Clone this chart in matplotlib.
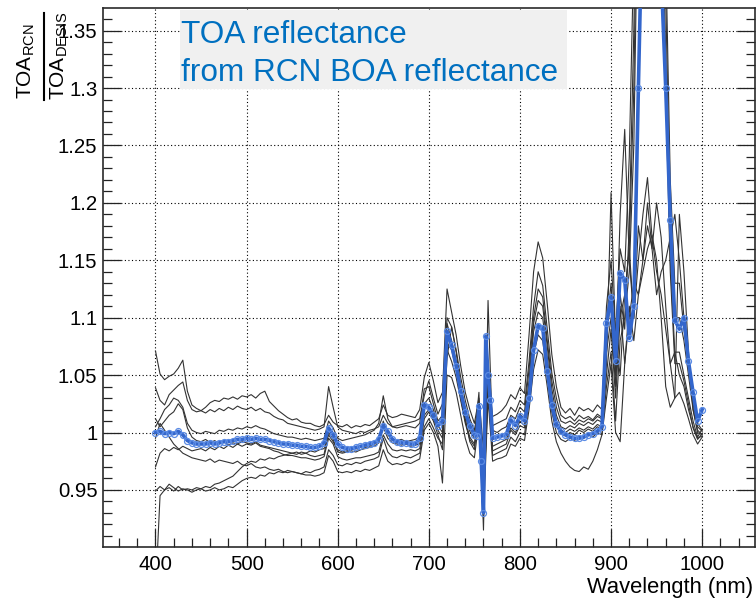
import numpy as np
import matplotlib
matplotlib.use("Agg")
import matplotlib.pyplot as plt
from matplotlib.ticker import MultipleLocator, FuncFormatter
from matplotlib.patches import Rectangle
from matplotlib.lines import Line2D

plt.rcParams['font.family'] = ['Liberation Sans', 'DejaVu Sans']
plt.rcParams['mathtext.fontset'] = 'custom'
plt.rcParams['mathtext.rm'] = 'Liberation Sans'
plt.rcParams['mathtext.it'] = 'Liberation Sans:italic'

# ---------------- data ----------------
# wavelength grid of the individual (grey) curves
wl_grey = np.arange(400, 1001, 5)

g1 = [1.071, 1.051, 1.046, 1.049, 1.051, 1.056, 1.063, 1.036, 1.024, 1.021,
      1.019, 1.022, 1.026, 1.028, 1.027, 1.030, 1.029, 1.031, 1.029, 1.032,
      1.031, 1.033, 1.030, 1.034, 1.036, 1.027, 1.023, 1.019, 1.016, 1.013,
      1.011, 1.012, 1.009, 1.008, 1.008, 1.006, 1.005, 1.007, 1.015, 1.009,
      1.006, 1.005, 1.007, 1.004, 1.006, 1.005, 1.007, 1.006, 1.009, 1.012,
      1.024, 1.015, 1.013, 1.014, 1.016, 1.015, 1.014, 1.013, 1.020, 1.048,
      1.061, 1.045, 1.026, 1.035, 1.125, 1.105, 1.085, 1.058, 1.035, 1.020,
      1.008, 1.030, 0.985, 1.050, 1.014, 1.016, 1.019, 1.024, 1.033, 1.029,
      1.039, 1.034, 1.085, 1.140, 1.166, 1.152, 1.112, 1.068, 1.040, 1.022,
      1.017, 1.021, 1.015, 1.022, 1.019, 1.021, 1.018, 1.024, 1.020, 1.110,
      1.150, 1.085, 1.160, 1.140, 1.240, 1.420, 1.700, 1.900, 2.000, 1.980,
      1.950, 1.700, 1.420, 1.220, 1.130, 1.130, 1.090, 1.060, 1.030, 1.008,
      1.002]
g2 = [1.039, 1.028, 1.024, 1.033, 1.037, 1.041, 1.044, 1.028, 1.020, 1.018,
      1.019, 1.017, 1.020, 1.018, 1.021, 1.019, 1.022, 1.020, 1.023, 1.021,
      1.020, 1.022, 1.019, 1.021, 1.018, 1.017, 1.014, 1.012, 1.011, 1.008,
      1.007, 1.006, 1.005, 1.004, 1.003, 1.002, 1.003, 1.005, 1.040, 1.022,
      1.005, 1.002, 1.001, 1.000, 0.999, 1.001, 1.000, 1.002, 1.003, 1.005,
      1.015, 1.008, 1.005, 1.006, 1.007, 1.008, 1.009, 1.010, 1.012, 1.032,
      1.045, 1.030, 1.016, 1.025, 1.100, 1.092, 1.072, 1.048, 1.028, 1.012,
      1.002, 1.025, 0.960, 1.060, 1.006, 1.008, 1.010, 1.012, 1.022, 1.018,
      1.028, 1.024, 1.062, 1.110, 1.140, 1.128, 1.090, 1.052, 1.030, 1.015,
      1.012, 1.014, 1.010, 1.015, 1.012, 1.014, 1.011, 1.016, 1.013, 1.090,
      1.130, 1.060, 1.190, 1.264, 1.150, 1.100, 1.180, 1.150, 1.200, 1.160,
      1.120, 1.140, 1.150, 1.170, 1.190, 1.150, 1.100, 1.060, 1.025, 1.005,
      1.001]
g3 = [1.005, 1.012, 1.020, 1.024, 1.030, 1.028, 1.022, 1.008, 1.002, 1.000,
      0.999, 1.001, 1.000, 0.999, 1.002, 1.001, 1.003, 1.002, 1.004, 1.003,
      1.005, 1.004, 1.006, 1.004, 1.003, 1.001, 0.999, 0.998, 0.997, 0.996,
      0.996, 0.995, 0.994, 0.995, 0.994, 0.993, 0.994, 0.995, 1.010, 1.004,
      0.995, 0.993, 0.994, 0.995, 0.996, 0.997, 0.998, 1.000, 1.002, 1.008,
      1.032, 1.012, 1.005, 1.004, 1.005, 1.006, 1.005, 1.004, 1.008, 1.038,
      1.040, 1.025, 1.010, 1.015, 1.095, 1.080, 1.062, 1.040, 1.020, 1.006,
      0.998, 1.020, 0.950, 1.040, 1.002, 1.000, 1.003, 1.005, 1.015, 1.012,
      1.022, 1.018, 1.055, 1.100, 1.125, 1.118, 1.080, 1.045, 1.022, 1.010,
      1.008, 1.010, 1.007, 1.011, 1.009, 1.012, 1.010, 1.014, 1.012, 1.070,
      1.100, 1.040, 1.120, 1.090, 1.180, 1.350, 1.600, 1.800, 1.900, 1.880,
      1.850, 1.600, 1.380, 1.180, 1.100, 1.100, 1.080, 1.050, 1.020, 1.000,
      0.998]
g4 = [0.970, 0.982, 0.986, 0.984, 0.987, 0.985, 0.988, 0.986, 0.984, 0.985,
      0.986, 0.984, 0.987, 0.985, 0.988, 0.986, 0.989, 0.987, 0.990, 0.988,
      0.990, 0.989, 0.991, 0.988, 0.987, 0.986, 0.984, 0.983, 0.981, 0.980,
      0.980, 0.979, 0.978, 0.978, 0.977, 0.976, 0.977, 0.979, 0.995, 0.990,
      0.979, 0.977, 0.976, 0.977, 0.978, 0.978, 0.979, 0.980, 0.981, 0.983,
      0.998, 0.990, 0.985, 0.984, 0.985, 0.984, 0.985, 0.984, 0.986, 1.012,
      1.018, 1.010, 0.998, 0.985, 1.078, 1.072, 1.055, 1.030, 1.010, 0.996,
      0.990, 1.015, 0.935, 1.045, 0.988, 0.990, 0.992, 0.994, 1.004, 1.000,
      1.010, 1.006, 1.040, 1.088, 1.105, 1.100, 1.065, 1.030, 1.010, 1.002,
      1.000, 1.003, 1.001, 1.004, 1.002, 1.005, 1.003, 1.007, 1.005, 1.060,
      1.209, 1.080, 1.050, 1.120, 1.160, 1.100, 1.150, 1.190, 1.222, 1.170,
      1.140, 1.120, 1.090, 1.060, 1.070, 1.050, 1.040, 1.020, 1.005, 0.995,
      0.997]
g5 = [0.949, 0.953, 0.950, 0.952, 0.949, 0.953, 0.950, 0.951, 0.950, 0.952,
      0.951, 0.953, 0.952, 0.955, 0.956, 0.958, 0.960, 0.962, 0.966, 0.970,
      0.973, 0.975, 0.974, 0.977, 0.976, 0.978, 0.977, 0.979, 0.980, 0.981,
      0.982, 0.981, 0.983, 0.982, 0.984, 0.983, 0.985, 0.986, 0.998, 0.992,
      0.985, 0.983, 0.984, 0.985, 0.986, 0.985, 0.987, 0.988, 0.990, 0.992,
      1.005, 0.995, 0.991, 0.990, 0.989, 0.990, 0.988, 0.989, 0.990, 1.015,
      1.020, 1.012, 1.002, 0.995, 1.072, 1.062, 1.048, 1.028, 1.008, 0.994,
      0.988, 1.018, 0.940, 1.035, 0.984, 0.986, 0.988, 0.990, 1.002, 0.998,
      1.006, 1.004, 1.035, 1.075, 1.092, 1.088, 1.058, 1.025, 1.006, 0.999,
      0.997, 1.000, 0.998, 1.002, 1.000, 1.003, 1.001, 1.005, 1.003, 1.050,
      1.090, 1.030, 1.100, 1.120, 1.160, 1.300, 1.550, 1.750, 1.850, 1.830,
      1.800, 1.500, 1.330, 1.150, 1.070, 1.070, 1.050, 1.030, 1.010, 0.996,
      1.003]
g6 = [0.860, 0.945, 0.950, 0.955, 0.952, 0.949, 0.951, 0.950, 0.948, 0.950,
      0.951, 0.949, 0.950, 0.952, 0.950, 0.951, 0.953, 0.952, 0.955, 0.958,
      0.960, 0.961, 0.960, 0.963, 0.962, 0.965, 0.964, 0.966, 0.965, 0.967,
      0.966, 0.965, 0.964, 0.963, 0.963, 0.962, 0.963, 0.965, 0.980, 0.975,
      0.966, 0.965, 0.966, 0.965, 0.967, 0.966, 0.968, 0.967, 0.969, 0.971,
      0.985, 0.975, 0.972, 0.973, 0.972, 0.974, 0.973, 0.975, 0.977, 1.002,
      1.008, 1.000, 0.988, 0.956, 1.050, 1.048, 1.035, 1.015, 0.995, 0.982,
      0.978, 1.010, 0.925, 1.030, 0.975, 0.977, 0.978, 0.980, 0.990, 0.988,
      0.995, 0.993, 1.020, 1.055, 1.072, 1.068, 1.040, 1.010, 0.992, 0.982,
      0.975, 0.970, 0.967, 0.966, 0.970, 0.968, 0.975, 0.985, 0.998, 1.030,
      1.060, 1.000, 0.992, 1.060, 1.110, 1.080, 1.120, 1.150, 1.180, 1.160,
      1.200, 1.170, 1.110, 1.060, 1.030, 1.035, 1.025, 1.012, 0.998, 0.990,
      0.996]
g7 = [0.995, 1.008, 1.002, 0.996, 0.990, 0.986, 0.982, 0.980, 0.978, 0.977,
      0.976, 0.975, 0.977, 0.974, 0.976, 0.975, 0.974, 0.973, 0.975, 0.972,
      0.971, 0.973, 0.970, 0.969, 0.970, 0.968, 0.967, 0.968, 0.966, 0.965,
      0.966, 0.965, 0.964, 0.966, 0.965, 0.967, 0.968, 0.970, 0.985, 0.980,
      0.972, 0.971, 0.973, 0.972, 0.974, 0.973, 0.975, 0.976, 0.977, 0.979,
      0.995, 0.983, 0.979, 0.978, 0.980, 0.979, 0.978, 0.980, 0.982, 1.005,
      1.012, 1.004, 0.995, 0.990, 1.065, 1.092, 1.070, 1.040, 1.012, 0.992,
      0.985, 1.020, 0.945, 1.055, 0.980, 0.982, 0.984, 0.986, 0.996, 0.992,
      1.000, 0.998, 1.028, 1.068, 1.085, 1.080, 1.050, 1.018, 1.000, 0.994,
      0.992, 0.995, 0.993, 0.997, 0.995, 0.998, 0.996, 1.000, 0.998, 1.040,
      1.070, 1.010, 1.080, 1.100, 1.140, 1.250, 1.500, 1.700, 1.800, 1.780,
      1.750, 1.450, 1.300, 1.140, 1.060, 1.060, 1.045, 1.025, 1.004, 0.994,
      0.999]
g8 = [1.012, 1.005, 1.010, 1.015, 1.018, 1.025, 1.020, 1.004, 0.996, 0.993,
      0.992, 0.994, 0.991, 0.993, 0.990, 0.992, 0.989, 0.991, 0.990, 0.992,
      0.991, 0.990, 0.992, 0.989, 0.988, 0.987, 0.986, 0.985, 0.984, 0.983,
      0.982, 0.983, 0.981, 0.982, 0.980, 0.979, 0.980, 0.981, 1.000, 0.994,
      0.983, 0.982, 0.983, 0.984, 0.983, 0.985, 0.986, 0.987, 0.988, 0.991,
      1.010, 0.998, 0.994, 0.993, 0.994, 0.992, 0.993, 0.994, 0.996, 1.025,
      1.030, 1.020, 1.006, 1.000, 1.088, 1.078, 1.060, 1.036, 1.015, 1.001,
      0.995, 1.035, 0.915, 1.115, 0.994, 0.996, 0.998, 1.000, 1.010, 1.006,
      1.016, 1.012, 1.045, 1.095, 1.115, 1.110, 1.075, 1.038, 1.015, 1.005,
      1.003, 1.006, 1.004, 1.008, 1.006, 1.009, 1.007, 1.011, 1.009, 1.080,
      1.120, 1.050, 1.110, 1.060, 1.100, 1.130, 1.120, 1.140, 1.160, 1.172,
      1.150, 1.100, 1.040, 1.022, 1.030, 1.190, 1.140, 1.070, 1.020, 1.002,
      0.998]
grey_curves = [g1, g2, g3, g4, g5, g6, g7, g8]

# mean curve (blue)
wl_blue = (list(range(400, 751, 5)) + [752.5, 755, 757.5, 760, 762.5, 765, 767.5, 770]
           + list(range(775, 1001, 5)))
blue = [1.000, 1.001, 0.999, 1.000, 0.999, 1.001, 0.998, 0.993, 0.991, 0.990,
        0.990, 0.990, 0.991, 0.990, 0.991, 0.992, 0.992, 0.993, 0.994, 0.994,
        0.995, 0.994, 0.995, 0.994, 0.994, 0.993, 0.992, 0.991, 0.990, 0.990,
        0.989, 0.989, 0.988, 0.988, 0.987, 0.987, 0.988, 0.991, 1.004, 0.998,
        0.990, 0.987, 0.986, 0.986, 0.987, 0.988, 0.989, 0.990, 0.991, 0.994,
        1.006, 1.001, 0.994, 0.992, 0.991, 0.991, 0.990, 0.990, 0.995, 1.024,
        1.022, 1.015, 1.006, 1.010, 1.088, 1.076, 1.058, 1.036, 1.018, 1.006,
        0.998,
        0.997, 1.023, 0.975, 0.930, 1.084, 1.050, 1.028, 0.995,
        0.996, 0.997, 0.998, 1.011, 1.006, 1.014, 1.010, 1.030, 1.072, 1.093,
        1.091, 1.054, 1.024, 1.007, 1.001, 0.998, 0.996, 0.995, 0.995, 0.996,
        0.998, 0.999, 1.001, 1.005, 1.095, 1.118, 1.062, 1.139, 1.133, 1.082,
        1.110, 1.300, 1.480, 1.560, 1.580, 1.520, 1.400, 1.300, 1.185, 1.098,
        1.090, 1.100, 1.062, 1.035, 1.010, 1.020]

x_ticks_major = [400, 500, 600, 700, 800, 900, 1000]
title_lines = ["TOA reflectance", "from RCN BOA reflectance"]
x_title = "Wavelength (nm)"

# ---------------- figure ----------------
W, H = 756, 601
fig = plt.figure(figsize=(W / 100, H / 100), dpi=100)
ax = fig.add_axes([103 / W, 54 / H, 652 / W, 539 / H])

for g in grey_curves:
    ax.plot(wl_grey, g, color='#333333', lw=0.8, zorder=2)

ax.plot(wl_blue, blue, color='#3366cc', lw=2.6, zorder=3,
        marker='o', markersize=4.3, markerfacecolor='none',
        markeredgecolor='#5b8be4', markeredgewidth=0.9)

ax.set_xlim(342.4, 1058)
ax.set_ylim(0.9003, 1.3697)
ax.set_xticks(x_ticks_major)
ax.xaxis.set_minor_locator(MultipleLocator(20))
ax.yaxis.set_major_locator(MultipleLocator(0.05))
ax.yaxis.set_minor_locator(MultipleLocator(0.01))
ax.yaxis.set_major_formatter(FuncFormatter(lambda v, p: f"{v:g}"))
ax.xaxis.set_major_formatter(FuncFormatter(lambda v, p: f"{v:g}"))

ax.tick_params(which='both', direction='in', left=True, right=True,
               top=False, bottom=True, color='#222222', width=0.9,
               labelsize=14.7, labelcolor='black')
ax.tick_params(which='major', length=13)
ax.tick_params(which='minor', length=6.5)
ax.tick_params(axis='y', which='major', pad=4)
ax.tick_params(axis='x', which='major', pad=5.5)

ax.grid(which='major', color='black', linestyle=(0, (1, 2.2)), lw=0.8)
ax.set_axisbelow(True)
for s in ax.spines.values():
    s.set_color('#2a2a2a')
    s.set_linewidth(1.2)

# y title: fraction TOA_RCN / TOA_DESIS
fig.text(32 / W, 1 - 99 / H, r"$\mathrm{TOA}_{\mathrm{RCN}}$", rotation=90,
         rotation_mode='anchor', ha='left', va='baseline', fontsize=15)
fig.text(65 / W, 1 - 100 / H, r"$\mathrm{TOA}_{\mathrm{DESIS}}$", rotation=90,
         rotation_mode='anchor', ha='left', va='baseline', fontsize=15)
fig.add_artist(Line2D([44 / W, 44 / W], [1 - 13 / H, 1 - 100 / H],
                      color='black', lw=1.5, transform=fig.transFigure))

# x title
fig.text(753 / W, 1 - 593 / H, x_title, ha='right', va='baseline', fontsize=15.8)

# annotation box
fig.add_artist(Rectangle((180 / W, 1 - 89 / H), (567 - 180) / W, (89 - 10) / H,
                         transform=fig.transFigure, facecolor='#f0f0f0',
                         edgecolor='none', zorder=5))
fig.text(181 / W, 1 - 43 / H, title_lines[0], ha='left', va='baseline',
         fontsize=22.7, color='#0070c0', zorder=6)
fig.text(181 / W, 1 - 81 / H, title_lines[1], ha='left', va='baseline',
         fontsize=22.7, color='#0070c0', zorder=6)

fig.savefig("out.png", dpi=100)
